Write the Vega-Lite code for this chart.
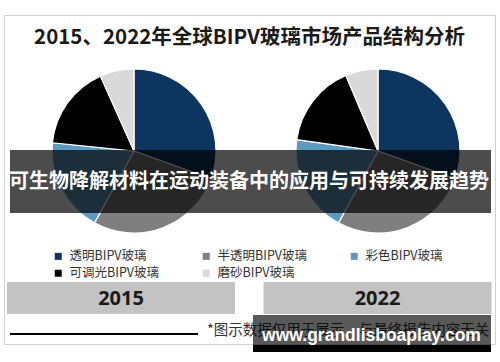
{
  "$schema": "https://vega.github.io/schema/vega-lite/v6.json",
  "width": 491,
  "height": 329,
  "autosize": {"type": "none"},
  "padding": {"left": 4, "top": 15, "right": 5, "bottom": 18},
  "background": "white",
  "view": {"stroke": "#d0d0d0", "strokeWidth": 1},
  "title": {
    "text": "2015、2022年全球BIPV玻璃市场产品结构分析",
    "anchor": "middle",
    "frame": "group",
    "orient": "top",
    "offset": 0,
    "dy": 43,
    "baseline": "middle",
    "font": "Noto Sans CJK SC",
    "fontSize": 20.5,
    "fontWeight": "bold",
    "color": "#1a1a1a"
  },
  "datasets": {
    "share": [
      {"year": "2015", "category": "透明BIPV玻璃", "value": 30.5},
      {"year": "2015", "category": "半透明BIPV玻璃", "value": 27.5},
      {"year": "2015", "category": "彩色BIPV玻璃", "value": 18.6},
      {"year": "2015", "category": "可调光BIPV玻璃", "value": 16.7},
      {"year": "2015", "category": "磨砂BIPV玻璃", "value": 6.7},
      {"year": "2022", "category": "透明BIPV玻璃", "value": 30.5},
      {"year": "2022", "category": "半透明BIPV玻璃", "value": 27.5},
      {"year": "2022", "category": "彩色BIPV玻璃", "value": 19.2},
      {"year": "2022", "category": "可调光BIPV玻璃", "value": 16.4},
      {"year": "2022", "category": "磨砂BIPV玻璃", "value": 6.4}
    ],
    "years": [{"year": "2015"}, {"year": "2022"}],
    "one": [{}]
  },
  "layer": [
    {
      "data": {"name": "share"},
      "transform": [
        {"stack": "value", "groupby": ["year"], "as": ["v0", "v1"]}
      ],
      "mark": {"type": "arc", "outerRadius": 82, "stroke": "white", "strokeWidth": 1.2},
      "encoding": {
        "x": {"field": "year", "type": "nominal", "axis": null,
              "scale": {"type": "point", "domain": ["2015", "2022"], "range": [130, 374], "padding": 0}},
        "y": {"value": 136},
        "theta": {"field": "v0", "type": "quantitative", "scale": {"domain": [0, 100]}},
        "theta2": {"field": "v1"},
        "color": {
          "field": "category", "type": "nominal",
          "scale": {
            "domain": ["透明BIPV玻璃", "半透明BIPV玻璃", "彩色BIPV玻璃", "可调光BIPV玻璃", "磨砂BIPV玻璃"],
            "range": ["#0e355f", "#7f7f7f", "#5b9bbf", "#000000", "#d9d9d9"]
          },
          "legend": {
            "title": null,
            "orient": "none",
            "legendX": 48,
            "legendY": 235,
            "direction": "horizontal",
            "columns": 3,
            "columnPadding": 41,
            "rowPadding": 4,
            "padding": 0,
            "symbolType": "square",
            "symbolSize": 49,
            "symbolStrokeWidth": 0,
            "symbolOffset": 0,
            "labelOffset": 5,
            "labelFont": "Noto Sans CJK SC",
            "labelFontSize": 12.5,
            "labelColor": "#333333",
            "labelLimit": 200
          }
        }
      }
    },
    {
      "data": {"name": "years"},
      "layer": [
        {
          "mark": {"type": "bar", "width": 228, "color": "#c3c3c3"},
          "encoding": {
            "x": {"field": "year", "type": "nominal", "axis": null,
                  "scale": {"type": "point", "domain": ["2015", "2022"], "range": [117, 373.5], "padding": 0}},
            "y": {"value": 267},
            "y2": {"value": 299}
          }
        },
        {
          "mark": {"type": "text", "font": "Noto Sans", "fontSize": 20, "fontWeight": "bold", "color": "#1a1a1a", "baseline": "middle"},
          "encoding": {
            "x": {"field": "year", "type": "nominal", "axis": null,
                  "scale": {"type": "point", "domain": ["2015", "2022"], "range": [117, 373.5], "padding": 0}},
            "y": {"value": 284},
            "text": {"field": "year"}
          }
        }
      ]
    },
    {
      "data": {"name": "one"},
      "mark": {"type": "rule", "color": "#000000", "strokeWidth": 2},
      "encoding": {"x": {"value": 6}, "x2": {"value": 194}, "y": {"value": 319}}
    },
    {
      "data": {"name": "one"},
      "mark": {"type": "text", "align": "left", "baseline": "middle", "font": "Noto Sans CJK SC", "fontSize": 14.5, "color": "#333333"},
      "encoding": {"x": {"value": 203}, "y": {"value": 316}, "text": {"value": "*图示数据仅用于展示，与最终报告内容无关"}}
    },
    {
      "data": {"name": "one"},
      "mark": {"type": "rect", "color": "#000000", "opacity": 0.7},
      "encoding": {"x": {"value": 6}, "x2": {"value": 487}, "y": {"value": 135}, "y2": {"value": 198}}
    },
    {
      "data": {"name": "one"},
      "mark": {"type": "text", "align": "center", "baseline": "middle", "font": "Noto Sans CJK SC", "fontSize": 20, "fontWeight": "bold", "color": "#ffffff"},
      "encoding": {"x": {"value": 245}, "y": {"value": 167}, "text": {"value": "可生物降解材料在运动装备中的应用与可持续发展趋势"}}
    },
    {
      "data": {"name": "one"},
      "mark": {"type": "rect", "color": "#000000", "opacity": 0.65},
      "encoding": {"x": {"value": 249}, "x2": {"value": 487}, "y": {"value": 300}, "y2": {"value": 330}}
    },
    {
      "data": {"name": "one"},
      "mark": {"type": "rect", "color": "#000000", "opacity": 1},
      "encoding": {"x": {"value": 249}, "x2": {"value": 487}, "y": {"value": 330}, "y2": {"value": 337}}
    },
    {
      "data": {"name": "one"},
      "mark": {"type": "text", "align": "center", "baseline": "alphabetic", "font": "Liberation Sans", "fontSize": 17.5, "fontWeight": "bold", "color": "#ffffff"},
      "encoding": {"x": {"value": 367.5}, "y": {"value": 326}, "text": {"value": "www.grandlisboaplay.com"}}
    }
  ],
  "resolve": {"scale": {"x": "independent"}}
}
